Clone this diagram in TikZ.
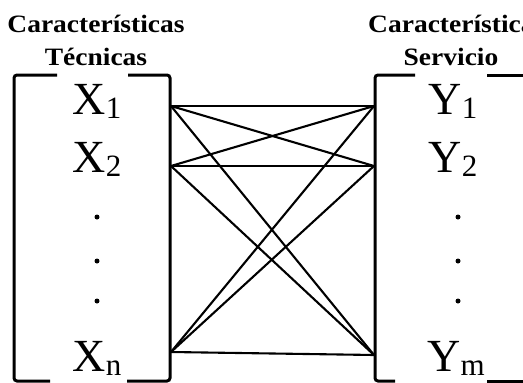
\documentclass[tikz,border=0pt]{standalone}
\usepackage{fontspec}
\setmainfont{Liberation Serif}
\usetikzlibrary{positioning,calc}
\tikzset{
  varlbl/.style  = {anchor=base, inner sep=0pt, font=\fontsize{46}{46}\selectfont},
  headlbl/.style = {anchor=base, inner sep=0pt, xscale=1.1,
                    font=\bfseries\fontsize{25}{25}\selectfont},
  vdot/.style    = {fill, circle, inner sep=0pt, minimum size=5pt},
  brk/.style     = {line width=3pt, rounded corners=3pt},
  link/.style    = {line width=2.1pt},
}
\newcommand{\lowidx}[1]{\raisebox{-0.2ex}{\fontsize{31}{31}\selectfont #1}}

\begin{document}
\begin{tikzpicture}[x=1pt, y=-1pt]
\clip (0,0) rectangle (523,383);
\useasboundingbox (0,0) rectangle (523,383);
% ---- headings ----
\node[headlbl] (tecA) at (96,32) {Características};
\node[headlbl] (tecB) at (96,65) {Técnicas};
\node[headlbl,anchor=base west] (serA) at (368,32) {Características};
\node[headlbl] (serB) at (451,65) {Servicio};
% ---- the two brackets ----
\draw[brk] (57,75) -- (14,75) -- (14,381) -- (50,381);
\draw[brk] (128,75) -- (170,75) -- (170,381) -- (127,381);
\draw[brk] (415,75) -- (375,75) -- (375,381) -- (395,381);
\draw[brk] (487,75) -- (530,75);
\draw[brk] (487,381) -- (530,381);
% ---- variables ----
\node[varlbl] (x1) at (97,114) {X\lowidx{1}};
\node[varlbl] (x2) at (97,172) {X\lowidx{2}};
\node[varlbl] (xn) at (97,371) {X\lowidx{n}};
\node[varlbl] (y1) at (453,114) {Y\lowidx{1}};
\node[varlbl] (y2) at (453,172) {Y\lowidx{2}};
\node[varlbl] (ym) at (456,371) {Y\lowidx{m}};
\foreach \yy [count=\i] in {217,261,301}{
  \node[vdot] (xd\i) at (97,\yy) {};
  \node[vdot] (yd\i) at (458,\yy) {};}
% ---- link ends on the bracket sides ----
\coordinate (l1) at (171,106);
\coordinate (l2) at (171,166);
\coordinate (ln) at (171,352);
\coordinate (r1) at (374,106);
\coordinate (r2) at (374,166);
\coordinate (rm) at (374,355);
\foreach \a in {l1,l2,ln}{
  \foreach \b in {r1,r2,rm}{
    \draw[link] (\a) -- (\b);}}
\end{tikzpicture}
\end{document}
